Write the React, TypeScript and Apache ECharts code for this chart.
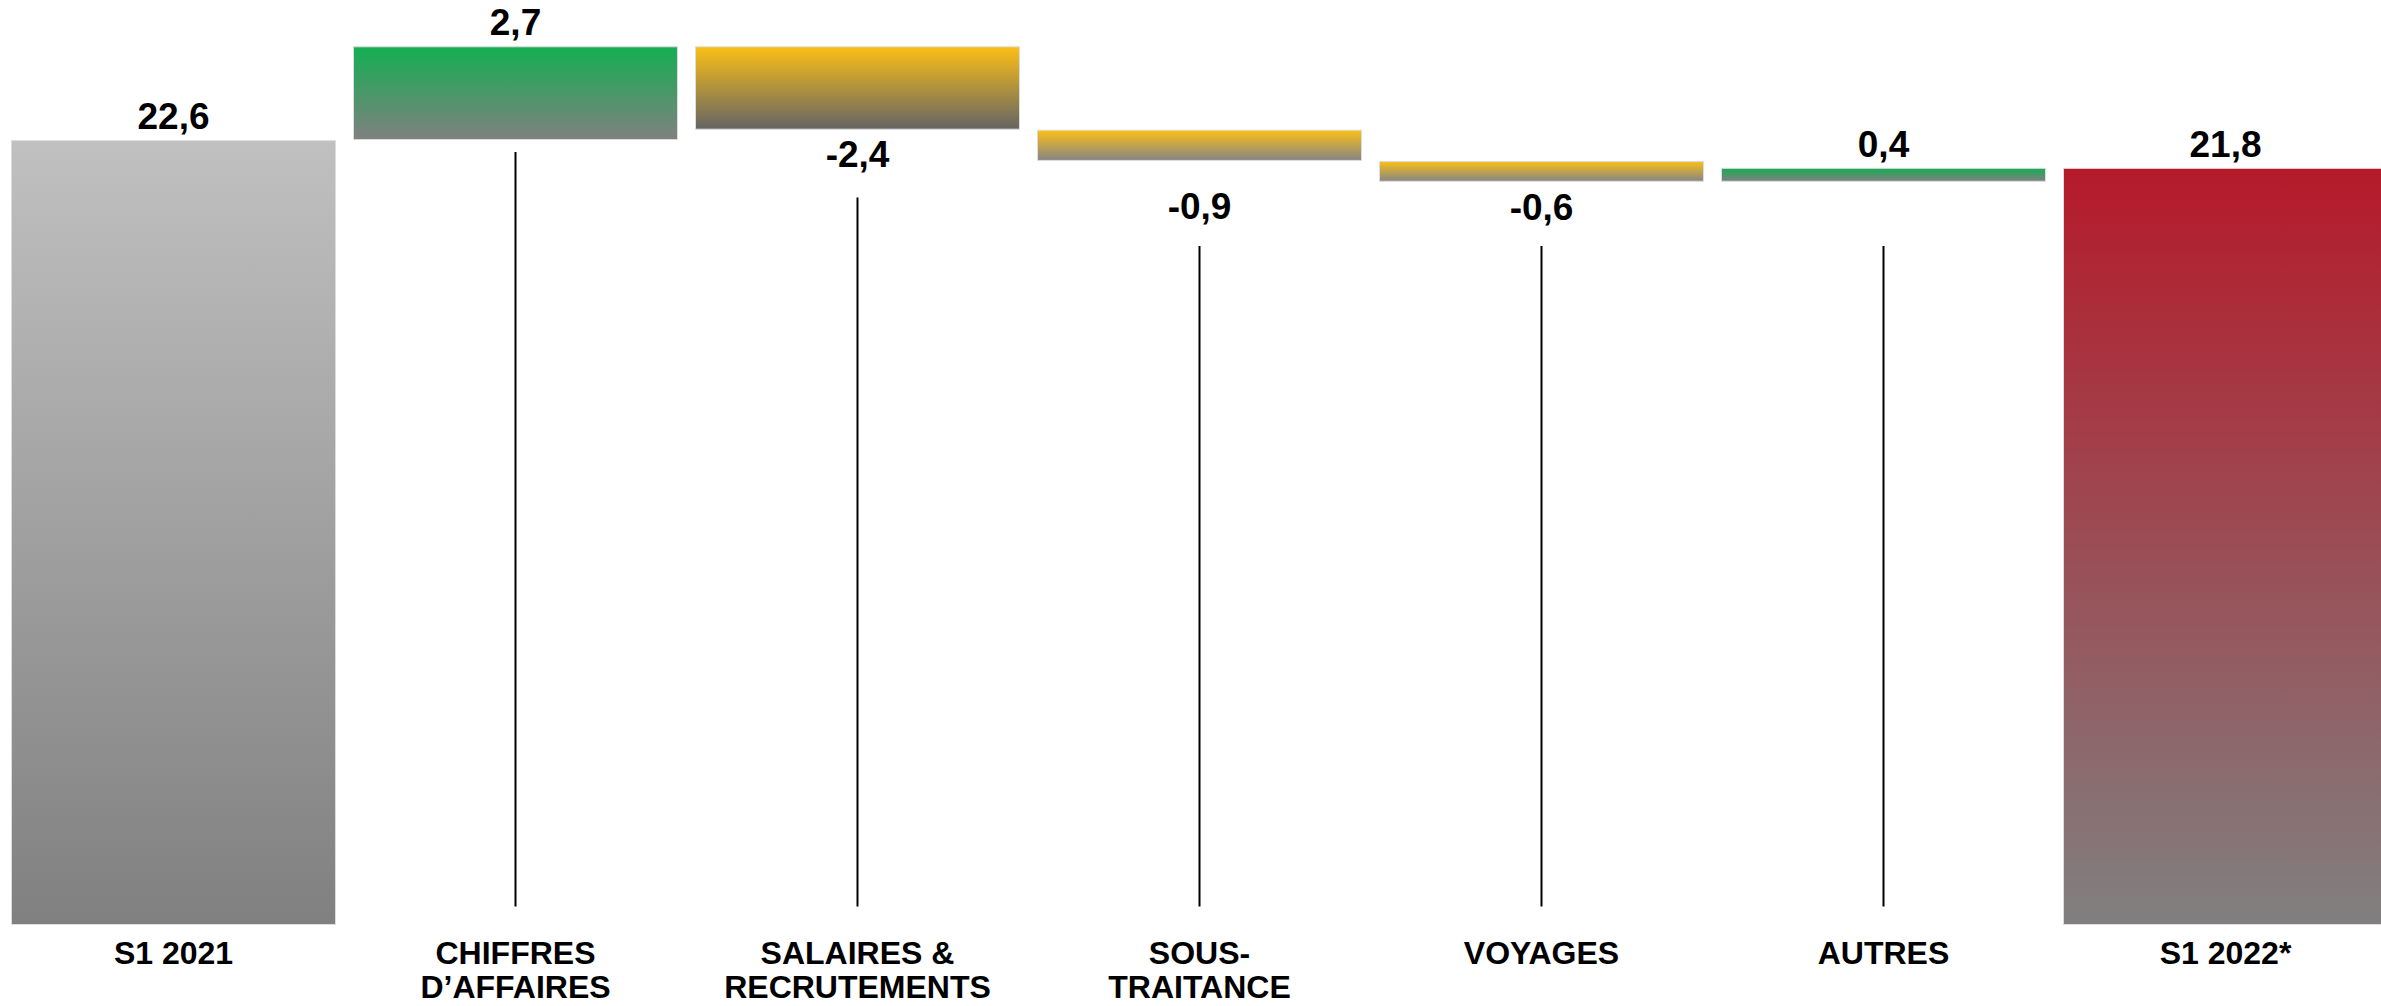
import React, { useEffect, useRef } from "react";
import * as echarts from "echarts";

const categories = [
  "S1 2021",
  "CHIFFRES\nD’AFFAIRES",
  "SALAIRES &\nRECRUTEMENTS",
  "SOUS-\nTRAITANCE",
  "VOYAGES",
  "AUTRES",
  "S1 2022*",
];
const changes = [22.6, 2.7, -2.4, -0.9, -0.6, 0.4, 21.8];
const isTotal = [true, false, false, false, false, false, true];
const topColors = ["#c0c0c0", "#14ae52", "#fbbf16", "#fbbf16", "#fbbf16", "#14ae52", "#b51a2a"];
const bottomColors = ["#808080", "#808080", "#646464", "#858585", "#858585", "#808080", "#808080"];
const labelDistances = [5, 5, 6, 27, 7, 5, 5];
// thin connector lines (value units)
const connectorCats = [1, 2, 3, 4, 5];
const connectorTops = [22.26, 20.95, 19.55, 19.55, 19.55];
const connectorBottom = 0.53;
const yMax = 26;

const fmt = (v: number) => v.toFixed(1).replace(".", ",");

export default function App() {
  const ref = useRef<HTMLDivElement>(null);
  useEffect(() => {
    document.body.style.margin = "0";
    const chart = echarts.init(ref.current!, undefined, { renderer: "svg" });

    const base: number[] = [];
    const vis: any[] = [];
    let running = 0;
    changes.forEach((c, i) => {
      let b: number, h: number;
      if (isTotal[i]) {
        b = 0;
        h = c;
        running = c;
      } else {
        b = c >= 0 ? running : running + c;
        h = Math.abs(c);
        running = running + c;
      }
      base.push(+b.toFixed(4));
      vis.push({
        value: +h.toFixed(4),
        itemStyle: {
          color: new echarts.graphic.LinearGradient(0, 0, 0, 1, [
            { offset: 0, color: topColors[i] },
            { offset: 1, color: bottomColors[i] },
          ]),
        },
        label: {
          position: c >= 0 ? "top" : "bottom",
          distance: labelDistances[i],
          formatter: fmt(c),
        },
      });
    });

    const font = "'Liberation Sans', Arial, Helvetica, sans-serif";

    chart.setOption({
      animation: false,
      grid: {
        left: 2.5,
        top: 22,
        width: 2394,
        height: 903,
        containLabel: false,
        outerBoundsMode: "none",
      },
      xAxis: {
        type: "category",
        data: categories,
        axisLine: { show: false },
        axisTick: { show: false },
        axisLabel: {
          interval: 0,
          color: "#000",
          fontFamily: font,
          fontWeight: "bold",
          fontSize: 32,
          lineHeight: 34,
          margin: 11,
          verticalAlign: "top",
        },
      },
      yAxis: {
        type: "value",
        min: 0,
        max: yMax,
        show: false,
        splitLine: { show: false },
      },
      series: [
        {
          type: "bar",
          stack: "wf",
          data: base,
          barWidth: 325,
          itemStyle: { color: "transparent" },
          silent: true,
        },
        {
          type: "bar",
          stack: "wf",
          data: vis,
          barWidth: 325,
          itemStyle: { borderColor: "#dcdcdc", borderWidth: 1 },
          label: {
            show: true,
            color: "#000",
            fontFamily: font,
            fontWeight: "bold",
            fontSize: 37,
          },
        },
        {
          type: "custom",
          silent: true,
          data: connectorCats.map((c, i) => [c, connectorTops[i], connectorBottom]),
          renderItem: (params: any, api: any) => {
            const p1 = api.coord([api.value(0), api.value(1)]);
            const p2 = api.coord([api.value(0), api.value(2)]);
            return {
              type: "line",
              shape: { x1: p1[0], y1: p1[1], x2: p2[0], y2: p2[1] },
              style: { stroke: "#000", lineWidth: 2 },
            };
          },
        },
      ],
    });
    return () => chart.dispose();
  }, []);
  return (
    <div style={{ width: "2381px", height: "1006px", overflow: "hidden" }}>
      <div ref={ref} style={{ width: "2381px", height: "1006px" }} />
    </div>
  );
}
